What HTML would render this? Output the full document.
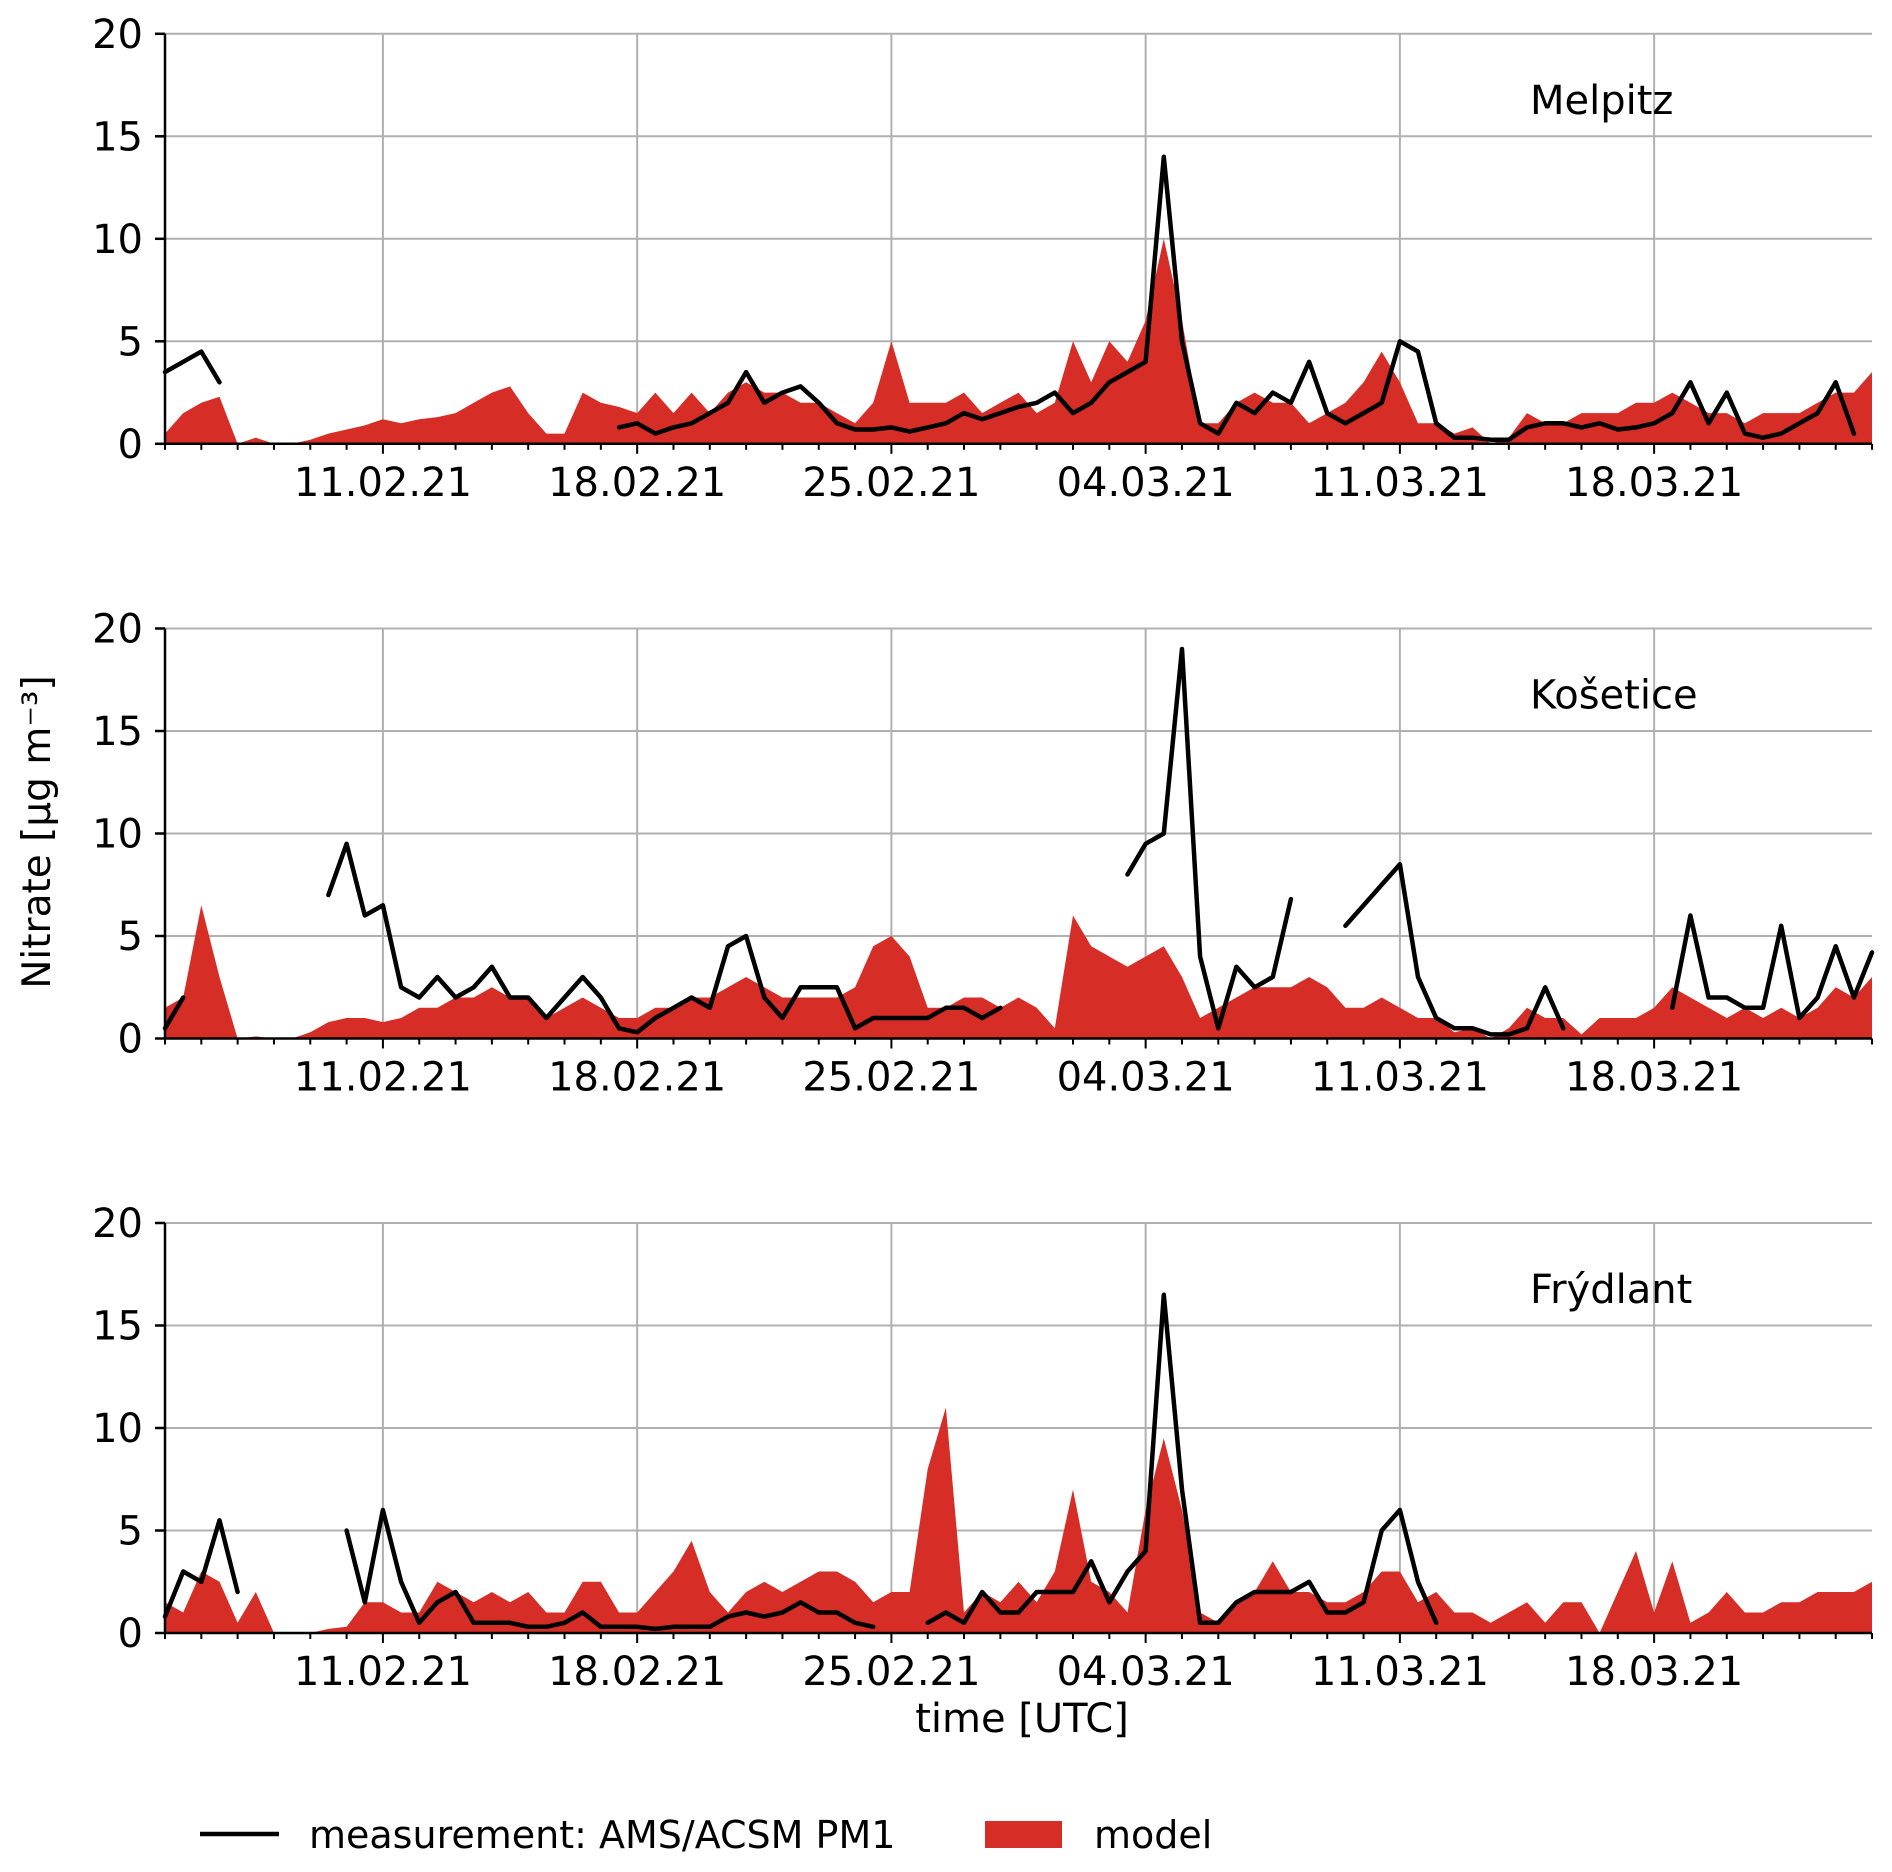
<!DOCTYPE html>
<html><head><meta charset="utf-8"><style>
html,body{margin:0;padding:0;background:#fff;}
svg{display:block;font-family:"DejaVu Sans","Liberation Sans",sans-serif;}
</style></head><body>
<svg id="chart" width="1892" height="1872" viewBox="0 0 1892 1872" xmlns="http://www.w3.org/2000/svg">
<g id="panels"></g>
<text x="1022" y="1732" font-size="40" text-anchor="middle">time [UTC]</text>
<text transform="translate(50,832) rotate(-90)" font-size="39" text-anchor="middle">Nitrate  [µg m⁻³]</text>
<g>
<line x1="200" y1="1834" x2="279" y2="1834" stroke="#000" stroke-width="4.5"/>
<text x="309" y="1848" font-size="38">measurement: AMS/ACSM PM1</text>
<rect x="985" y="1821" width="77" height="27" fill="#d62d26"/>
<text x="1094" y="1848" font-size="38">model</text>
</g>
</svg>
<script>
const stations = ["Melpitz","Košetice","Frýdlant"];
const yTicks = [0,5,10,15,20];
const xTickDays = [6,13,20,27,34,41];
const xTickLabels = ["11.02.21","18.02.21","25.02.21","04.03.21","11.03.21","18.03.21"];
const step = 0.5; // days between samples, starting 05.02.21
const N = null;
const modelMelpitz = [0.5,1.5,2,2.3,0,0.3,0,0,0.2,0.5,0.7,0.9,1.2,1,1.2,1.3,1.5,2,2.5,2.8,1.5,0.5,0.5,2.5,2,1.8,1.5,2.5,1.5,2.5,1.5,2.5,3,2.5,2.5,2,2,1.5,1,2,5,2,2,2,2.5,1.5,2,2.5,1.5,2,5,3,5,4,6,10,6,1,1,2,2.5,2,2,1,1.5,2,3,4.5,3,1,1,0.5,0.8,0,0.3,1.5,1,1,1.5,1.5,1.5,2,2,2.5,2,1.5,1.5,1,1.5,1.5,1.5,2,2.5,2.5,3.5];
const measMelpitz = [3.5,4,4.5,3,N,N,N,N,N,N,N,N,N,N,N,N,N,N,N,N,N,N,N,N,N,0.8,1,0.5,0.8,1,1.5,2,3.5,2,2.5,2.8,2,1,0.7,0.7,0.8,0.6,0.8,1,1.5,1.2,1.5,1.8,2,2.5,1.5,2,3,3.5,4,14,5,1,0.5,2,1.5,2.5,2,4,1.5,1,1.5,2,5,4.5,1,0.3,0.3,0.2,0.2,0.8,1,1,0.8,1,0.7,0.8,1,1.5,3,1,2.5,0.5,0.3,0.5,1,1.5,3,0.5,N];
const modelKosetice = [1.5,2,6.5,3,0,0.1,0,0,0.3,0.8,1,1,0.8,1,1.5,1.5,2,2,2.5,2,2,1,1.5,2,1.5,1,1,1.5,1.5,2,2,2.5,3,2.5,2,2,2,2,2.5,4.5,5,4,1.5,1.5,2,2,1.5,2,1.5,0.5,6,4.5,4,3.5,4,4.5,3,1,1.5,2,2.5,2.5,2.5,3,2.5,1.5,1.5,2,1.5,1,1,0.3,0.5,0,0.5,1.5,1,1,0.2,1,1,1,1.5,2.5,2,1.5,1,1.5,1,1.5,1,1.5,2.5,2,3];
const measKosetice = [0.5,2,N,N,N,N,N,N,N,7,9.5,6,6.5,2.5,2,3,2,2.5,3.5,2,2,1,2,3,2,0.5,0.3,1,1.5,2,1.5,4.5,5,2,1,2.5,2.5,2.5,0.5,1,1,1,1,1.5,1.5,1,1.5,N,N,N,N,N,N,8,9.5,10,19,4,0.5,3.5,2.5,3,6.8,N,N,5.5,6.5,7.5,8.5,3,1,0.5,0.5,0.2,0.2,0.5,2.5,0.5,N,N,N,N,N,1.5,6,2,2,1.5,1.5,5.5,1,2,4.5,2,4.2];
const modelFrydlant = [1.5,1,3,2.5,0.5,2,0,0,0,0.2,0.3,1.5,1.5,1,1,2.5,2,1.5,2,1.5,2,1,1,2.5,2.5,1,1,2,3,4.5,2,1,2,2.5,2,2.5,3,3,2.5,1.5,2,2,8,11,1,2,1.5,2.5,1.5,3,7,2.5,2,1,6,9.5,6,1,0.5,1.5,2,3.5,2,2,1.5,1.5,2,3,3,1.5,2,1,1,0.5,1,1.5,0.5,1.5,1.5,0,2,4,1,3.5,0.5,1,2,1,1,1.5,1.5,2,2,2,2.5];
const measFrydlant = [0.8,3,2.5,5.5,2,N,2.5,N,N,N,5,1.5,6,2.5,0.5,1.5,2,0.5,0.5,0.5,0.3,0.3,0.5,1,0.3,0.3,0.3,0.2,0.3,0.3,0.3,0.8,1,0.8,1,1.5,1,1,0.5,0.3,N,N,0.5,1,0.5,2,1,1,2,2,2,3.5,1.5,3,4,16.5,7,0.5,0.5,1.5,2,2,2,2.5,1,1,1.5,5,6,2.5,0.5,N,N,N,N,N,N,N,N,N,N,N,N,N,N,N,N,N,N,N,N,N,N,N,N];
const models = [modelMelpitz, modelKosetice, modelFrydlant];
const meas = [measMelpitz, measKosetice, measFrydlant];

const X0 = 165, X1 = 1872, DAY = 36.32, PH = 410;
const tops = [33.8, 628.5, 1223];
const NS = "http://www.w3.org/2000/svg";
function xScale(d){ return X0 + d*DAY; }
function yScale(p, v){ return tops[p] + (20 - Math.min(v,20))/20*PH; }
function mk(tag, attrs, parent){
  const e = document.createElementNS(NS, tag);
  for (const k in attrs) e.setAttribute(k, attrs[k]);
  parent.appendChild(e); return e;
}
const root = document.getElementById('panels');
stations.forEach((name, p) => {
  const g = mk('g', {}, root);
  
  
  const bottom = tops[p] + PH;
  yTicks.forEach(t => {
    if (t === 0) return;
    const l = mk('line', {x1:X0, x2:X1, y1:yScale(p,t), y2:yScale(p,t), stroke:'#b0b0b0', 'stroke-width':2}, g);
    
    
  });
  xTickDays.forEach(d => {
    const l = mk('line', {x1:xScale(d), x2:xScale(d), y1:tops[p], y2:bottom, stroke:'#b0b0b0', 'stroke-width':2}, g);
    
    
  });
  const mv = models[p];
  let pts = xScale(0) + ',' + bottom + ' ';
  mv.forEach((v, i) => { pts += xScale(i*step).toFixed(1) + ',' + yScale(p, v).toFixed(1) + ' '; });
  pts += xScale((mv.length-1)*step) + ',' + bottom;
  const area = mk('polygon', {points: pts, fill:'#d62d26'}, g);
  
  
  const ms = meas[p];
  let d = ''; let pen = false;
  ms.forEach((v, i) => {
    if (v === null) { pen = false; return; }
    d += (pen ? 'L' : 'M') + xScale(i*step).toFixed(1) + ',' + yScale(p, v).toFixed(1) + ' ';
    pen = true;
  });
  const line = mk('path', {d: d, fill:'none', stroke:'#000', 'stroke-width':4.5, 'stroke-linejoin':'round', 'stroke-linecap':'round'}, g);
  
  
  mk('line', {x1:X0, x2:X0, y1:tops[p], y2:bottom, stroke:'#000', 'stroke-width':2.5}, g);
  mk('line', {x1:X0, x2:X1, y1:bottom, y2:bottom, stroke:'#000', 'stroke-width':2.5}, g);
  yTicks.forEach(t => {
    mk('line', {x1:X0-10, x2:X0, y1:yScale(p,t), y2:yScale(p,t), stroke:'#000', 'stroke-width':2.5}, g);
    const tx = mk('text', {x:143, y:yScale(p,t)+14, 'font-size':40, 'text-anchor':'end'}, g);
    tx.textContent = t;
    
    
  });
  for (let k = 0; k <= 47; k++) {
    const major = xTickDays.indexOf(k) >= 0;
    mk('line', {x1:xScale(k), x2:xScale(k), y1:bottom, y2:bottom + (major ? 10 : 6), stroke:'#000', 'stroke-width':2}, g);
  }
  xTickDays.forEach((dd, j) => {
    const tx = mk('text', {x:xScale(dd), y:bottom+52, 'font-size':40, 'text-anchor':'middle'}, g);
    tx.textContent = xTickLabels[j];
    
    
  });
  const st = mk('text', {x:1530, y:tops[p]+80, 'font-size':40}, g);
  st.textContent = name;
  
  
});
</script>
</body></html>
